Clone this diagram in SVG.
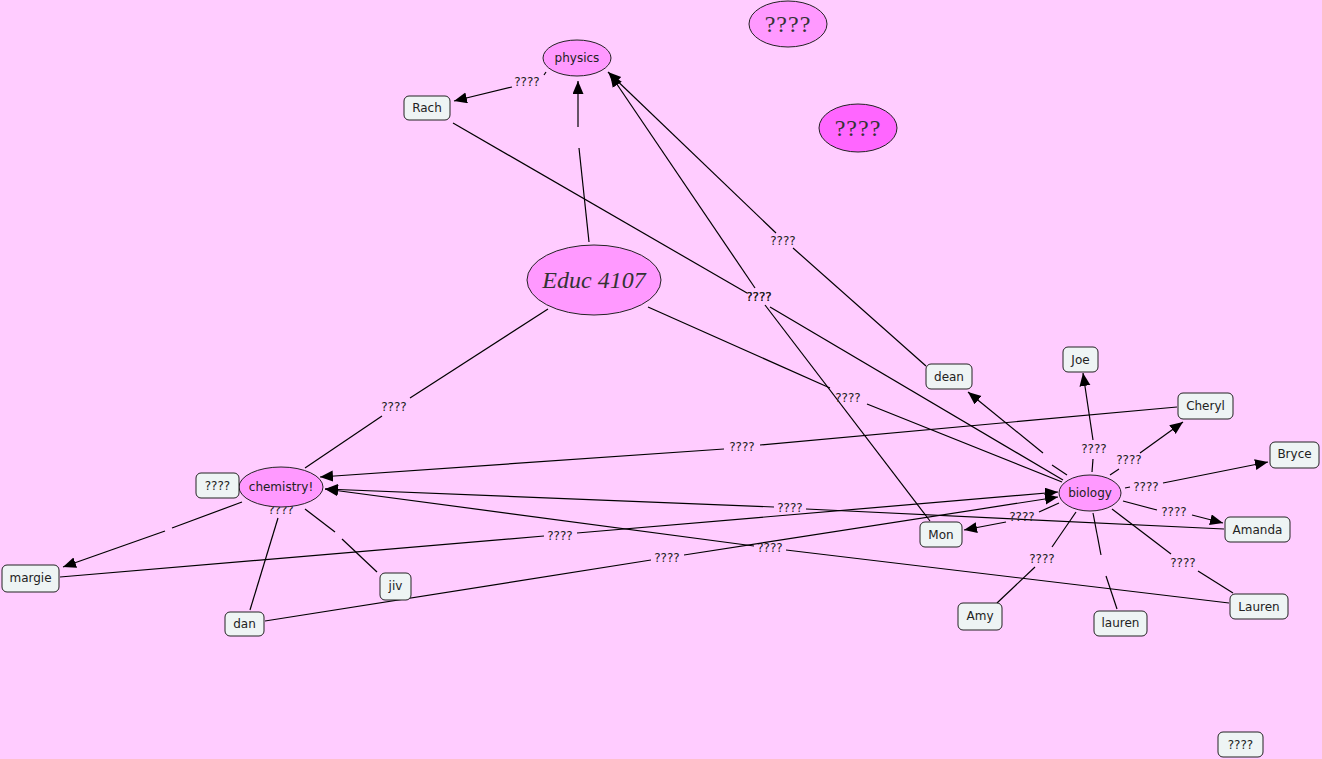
<svg xmlns="http://www.w3.org/2000/svg" width="1322" height="759" viewBox="0 0 1322 759">
<defs>
<marker id="ah" markerUnits="userSpaceOnUse" markerWidth="14" markerHeight="12" refX="13" refY="5.5" orient="auto">
<path d="M0,0 L13,5.5 L0,11 z" fill="#000"/>
</marker>
<style>
.ln{stroke:#000;stroke-width:1.2;fill:none}
.ar{stroke:#000;stroke-width:1.2;fill:none;marker-end:url(#ah)}
.lb{font-family:"DejaVu Sans",Verdana,sans-serif;font-size:12px;fill:#222;text-anchor:middle}
.bx{fill:#eef4f4;stroke:#222;stroke-width:1}
.el{fill:#ff99ff;stroke:#222;stroke-width:1}
.el2{fill:#ff66ff;stroke:#222;stroke-width:1}
.nt{font-family:"DejaVu Sans",Verdana,sans-serif;font-size:12px;fill:#222;text-anchor:middle}
.sc{font-family:"Liberation Serif","DejaVu Serif",serif;font-size:24px;fill:#333;text-anchor:middle;letter-spacing:1px}
.ed{font-family:"Liberation Serif","DejaVu Serif",serif;font-style:italic;font-size:24px;fill:#333;text-anchor:middle}
</style>
</defs>
<rect width="1322" height="759" fill="#ffccff"/>
<g id="connectors">
<!-- physics -> Rach -->
<path class="ln" d="M546,72 L544,75"/>
<path class="ar" d="M512,87 L454,101"/>
<text class="lb" x="527" y="86">????</text>
<!-- Educ -> physics -->
<path class="ln" d="M589,242 L579,148"/>
<path class="ar" d="M578,127 L578,81"/>
<!-- dean -> physics -->
<path class="ln" d="M926,366 L793,248"/>
<path class="ar" d="M776,233 L608,72"/>
<text class="lb" x="783" y="245">????</text>
<!-- Mon -> physics -->
<path class="ln" d="M930,521 L765,305"/>
<path class="ar" d="M755,288 L610,74"/>
<text class="lb" x="759" y="301">????</text>
<!-- Rach -> biology -->
<path class="ln" d="M453,123 L747,293"/>
<path class="ln" d="M770,307 L1063,480"/>
<text class="lb" x="759" y="301">????</text>
<!-- Educ -> biology -->
<path class="ln" d="M648,307 L830,388"/>
<path class="ln" d="M867,404 L1062,482"/>
<text class="lb" x="848" y="402">????</text>
<!-- Educ -> chemistry -->
<path class="ln" d="M548,309 L410,398"/>
<path class="ln" d="M382,416 L305,468"/>
<text class="lb" x="394" y="411">????</text>
<!-- Cheryl -> chemistry -->
<path class="ln" d="M1177,407 L760,445"/>
<path class="ar" d="M724,449 L320,477"/>
<text class="lb" x="742" y="451">????</text>
<!-- Amanda -> chemistry -->
<path class="ln" d="M1224,529 L806,509"/>
<path class="ar" d="M774,507 L325,489"/>
<text class="lb" x="790" y="512">????</text>
<!-- Lauren -> chemistry -->
<path class="ln" d="M1229,603 L786,550"/>
<path class="ar" d="M754,546 L325,489"/>
<text class="lb" x="770" y="552">????</text>
<!-- margie -> biology -->
<path class="ln" d="M60,577 L544,536"/>
<path class="ar" d="M577,533 L1058,492"/>
<text class="lb" x="560" y="540">????</text>
<!-- dan -> biology -->
<path class="ln" d="M265,621 L651,560"/>
<path class="ar" d="M684,555 L1058,497"/>
<text class="lb" x="667" y="562">????</text>
<!-- chemistry -> margie -->
<path class="ln" d="M242,502 L172,528"/>
<path class="ar" d="M165,531 L63,567"/>
<!-- chemistry -> dan -->
<text class="lb" x="281" y="514">????</text>
<path class="ln" d="M278,518 L250,610"/>
<!-- chemistry -> jiv -->
<path class="ln" d="M305,509 L335,532"/>
<path class="ln" d="M342,539 L377,572"/>
<!-- biology -> dean -->
<path class="ln" d="M1067,475 L1052,465"/>
<path class="ar" d="M1043,453 L968,392"/>
<!-- biology -> Joe -->
<path class="ln" d="M1092,472 L1093,459"/>
<path class="ar" d="M1093,440 L1083,373"/>
<text class="lb" x="1094" y="453">????</text>
<!-- biology -> Cheryl -->
<path class="ln" d="M1110,475 L1119,469"/>
<path class="ar" d="M1140,453 L1183,422"/>
<text class="lb" x="1129" y="464">????</text>
<!-- biology -> Bryce -->
<path class="ln" d="M1125,488 L1130,487"/>
<path class="ar" d="M1163,483 L1268,462"/>
<text class="lb" x="1146" y="491">????</text>
<!-- biology -> Amanda -->
<path class="ln" d="M1123,501 L1157,510"/>
<path class="ar" d="M1192,515 L1223,523"/>
<text class="lb" x="1174" y="516">????</text>
<!-- biology -> Mon -->
<path class="ln" d="M1059,503 L1039,512"/>
<path class="ar" d="M1006,522 L964,530"/>
<text class="lb" x="1022" y="521">????</text>
<!-- biology -> Amy -->
<path class="ln" d="M1076,512 L1052,547"/>
<path class="ln" d="M1035,567 L997,603"/>
<text class="lb" x="1042" y="563">????</text>
<!-- biology -> lauren -->
<path class="ln" d="M1093,513 L1101,555"/>
<path class="ln" d="M1106,576 L1117,609"/>
<!-- biology -> Lauren -->
<path class="ln" d="M1112,509 L1171,554"/>
<path class="ln" d="M1198,571 L1233,593"/>
<text class="lb" x="1183" y="567">????</text>
</g>
<g id="q1"><ellipse class="el" cx="788" cy="24" rx="39" ry="23"/><text class="sc" x="788" y="32">????</text></g>
<g id="q2"><ellipse class="el2" cx="858" cy="128" rx="39" ry="24"/><text class="sc" x="858" y="136">????</text></g>
<g id="physics"><ellipse class="el" cx="577" cy="58" rx="34" ry="18"/><text class="nt" x="577" y="62">physics</text></g>
<g id="educ"><ellipse class="el" cx="594" cy="280" rx="67" ry="35"/><text class="ed" x="594" y="288">Educ 4107</text></g>
<g id="chemistry"><ellipse class="el" cx="281" cy="487" rx="42" ry="20"/><text class="nt" x="281" y="491">chemistry!</text></g>
<g id="biology"><ellipse class="el" cx="1090" cy="493" rx="31" ry="18"/><text class="nt" x="1090" y="497">biology</text></g>
<g id="rach"><rect class="bx" x="404" y="96" width="46" height="24" rx="5"/><text class="nt" x="427" y="112">Rach</text></g>
<g id="qchem"><rect class="bx" x="196" y="473" width="43" height="25" rx="5"/><text class="nt" x="217.5" y="490">????</text></g>
<g id="margie"><rect class="bx" x="2" y="565" width="57" height="27" rx="5"/><text class="nt" x="30.5" y="582">margie</text></g>
<g id="dan"><rect class="bx" x="225" y="612" width="39" height="24" rx="5"/><text class="nt" x="244.5" y="628">dan</text></g>
<g id="jiv"><rect class="bx" x="380" y="573" width="31" height="27" rx="5"/><text class="nt" x="395.5" y="590">jiv</text></g>
<g id="joe"><rect class="bx" x="1063" y="347" width="35" height="25" rx="5"/><text class="nt" x="1080.5" y="364">Joe</text></g>
<g id="dean"><rect class="bx" x="926" y="364" width="46" height="25" rx="5"/><text class="nt" x="949" y="381">dean</text></g>
<g id="cheryl"><rect class="bx" x="1178" y="393" width="55" height="26" rx="5"/><text class="nt" x="1205.5" y="410">Cheryl</text></g>
<g id="bryce"><rect class="bx" x="1270" y="442" width="49" height="26" rx="5"/><text class="nt" x="1294.5" y="458">Bryce</text></g>
<g id="amanda"><rect class="bx" x="1225" y="517" width="65" height="25" rx="5"/><text class="nt" x="1257.5" y="534">Amanda</text></g>
<g id="mon"><rect class="bx" x="920" y="522" width="42" height="25" rx="5"/><text class="nt" x="941" y="539">Mon</text></g>
<g id="amy"><rect class="bx" x="958" y="603" width="44" height="27" rx="5"/><text class="nt" x="980" y="620">Amy</text></g>
<g id="lauren1"><rect class="bx" x="1094" y="611" width="53" height="25" rx="5"/><text class="nt" x="1120.5" y="627">lauren</text></g>
<g id="lauren2"><rect class="bx" x="1230" y="594" width="58" height="25" rx="5"/><text class="nt" x="1259" y="611">Lauren</text></g>
<g id="qbottom"><rect class="bx" x="1218" y="732" width="45" height="25" rx="5"/><text class="nt" x="1240.5" y="749">????</text></g>
</svg>
